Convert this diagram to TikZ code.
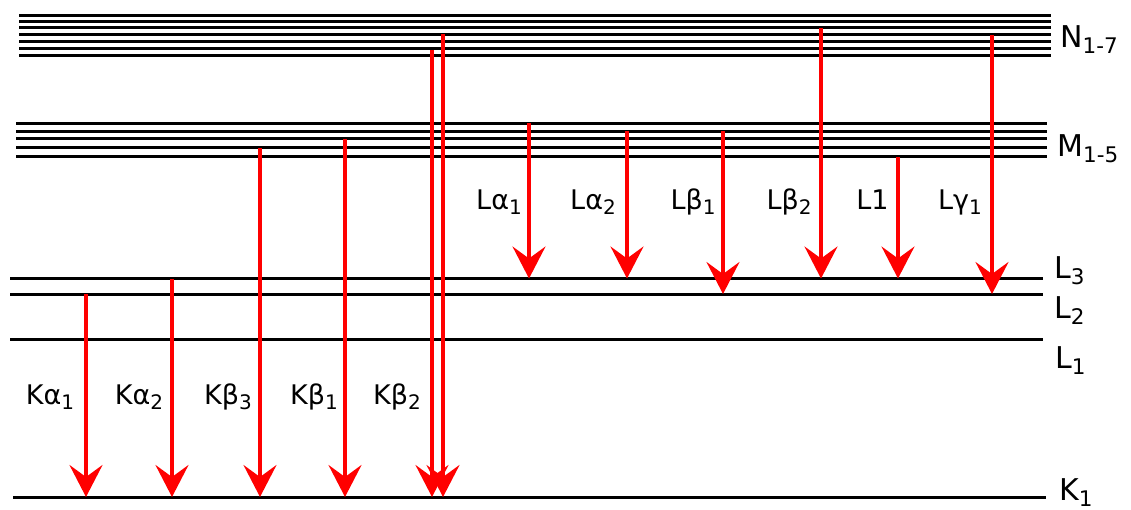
\documentclass[tikz,border=0pt]{standalone}
\usepackage{fontspec}
\setmainfont{DejaVu Sans}
\usetikzlibrary{arrows.meta}
% lowered, smaller index for level and line names
\newcommand{\idx}[1]{\raisebox{-5.5pt}{\fontsize{20}{20}\selectfont #1}}
\newcommand{\bigidx}[1]{\raisebox{-6pt}{\fontsize{21.5}{21.5}\selectfont #1}}
\tikzset{
  shell/.style={line width=3pt, black},
  xray/.style={draw=red, line width=3.2pt,
    -{Stealth[length=32pt, width=33pt, inset=12pt, red]}},
  tlabel/.style={anchor=base, inner sep=0pt, font=\fontsize{27}{27}\selectfont},
  slabel/.style={anchor=base west, inner sep=0pt, font=\fontsize{30}{30}\selectfont},
}
\begin{document}
\begin{tikzpicture}[x=1pt, y=-1pt]
\useasboundingbox (0,0) rectangle (1131,509);

% N sub-shells
\foreach \y in {15,21,27.5,34,41,48,55}
  \draw[shell] (19,\y) -- (1051,\y);
% M sub-shells
\foreach \y in {123,131,138.5,147,156}
  \draw[shell] (16,\y) -- (1047,\y);
% L and K shells
\draw[shell] (10,278.5) -- (1043,278.5);
\draw[shell] (10,294) -- (1043,294);
\draw[shell] (10,339) -- (1043,339);
\draw[shell] (13,497) -- (1046,497);

% shell names
\node[slabel] (nN)  at (1060,47)  {N\bigidx{1-7}};
\node[slabel] (nM)  at (1057,156) {M\bigidx{1-5}};
\node[slabel] (nL3) at (1054,278) {L\bigidx{3}};
\node[slabel] (nL2) at (1054,318) {L\bigidx{2}};
\node[slabel] (nL1) at (1055,368) {L\bigidx{1}};
\node[slabel] (nK1) at (1059,500) {K\bigidx{1}};

% transitions: name / x / upper level / lower level
\foreach \n/\x/\ya/\yb in {
    ka1/86/294/497, ka2/172/279/497, kb3/260/148/497, kb1/345/139/497,
    kb2a/432/50/497, kb2b/443/34/497,
    la1/529/123/278.5, la2/627/131/278.5, lb1/723/131/294,
    lb2/821/28/278.5, l1/898/157/278.5, lg1/992/35/294} {
  \coordinate (\n-a) at (\x,\ya);
  \coordinate (\n-b) at (\x,\yb);
  \draw[xray] (\n-a) -- (\n-b);
}

% transition names
\node[tlabel] (tka1) at (50,404)  {Kα\idx{1}};
\node[tlabel] (tka2) at (139,404) {Kα\idx{2}};
\node[tlabel] (tkb3) at (228,404) {Kβ\idx{3}};
\node[tlabel] (tkb1) at (314,404) {Kβ\idx{1}};
\node[tlabel] (tkb2) at (397,404) {Kβ\idx{2}};
\node[tlabel] (tla1) at (499,209) {Lα\idx{1}};
\node[tlabel] (tla2) at (593,209) {Lα\idx{2}};
\node[tlabel] (tlb1) at (693,209) {Lβ\idx{1}};
\node[tlabel] (tlb2) at (789,209) {Lβ\idx{2}};
\node[tlabel] (tl1)  at (872.5,209) {L1};
\node[tlabel] (tlg1) at (960,209) {Lγ\idx{1}};
\end{tikzpicture}
\end{document}
